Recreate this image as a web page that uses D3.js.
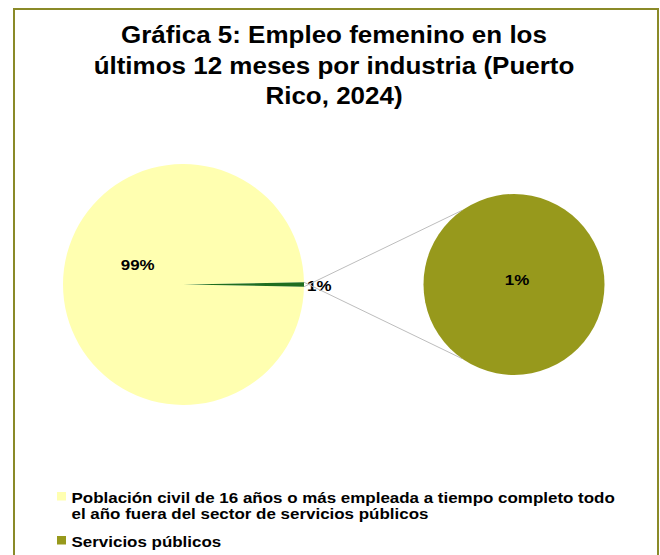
<!DOCTYPE html>
<html>
<head>
<meta charset="utf-8">
<script src="https://cdn.jsdelivr.net/npm/d3@7/dist/d3.min.js"></script>
<style>
  body { margin: 0; background: #fff; }
  svg { display: block; font-family: "Liberation Sans", Arial, sans-serif; }
</style>
</head>
<body>
<svg id="chart" width="660" height="555"></svg>
<script>
const TITLE_LINES = [
  'Gráfica 5: Empleo femenino en los',
  'últimos 12 meses por industria (Puerto',
  'Rico, 2024)',
]
const CATEGORIES = [
  'Población civil de 16 años o más empleada a tiempo completo todo el año fuera del sector de servicios públicos',
  'Servicios públicos',
]
const LEGEND_LINES = [
  ['Población civil de 16 años o más empleada a tiempo completo todo', 'el año fuera del sector de servicios públicos'],
  ['Servicios públicos'],
]
const MAIN_VALUES = [99.4, 0.6]   // % of total
const SECONDARY_VALUES = [0.6]    // breakdown of the small slice
const COLORS = ['#ffffb0', '#97991c']
const SMALL_SLICE_COLOR = '#1f6e1f'

const svg = d3.select('#chart')
const sx = 1.13   // the original font runs a bit wider than Liberation Sans

// frame
svg.append('rect')
  .attr('x', 14).attr('y', 9)
  .attr('width', 644).attr('height', 560)
  .attr('fill', 'none')
  .attr('stroke', '#8a8a28')
  .attr('stroke-width', 2)

// title
svg.append('g')
  .selectAll('text')
  .data(TITLE_LINES)
  .enter()
  .append('text')
  .attr('transform', (d, i) => `translate(334, ${43 + i * 30.5}) scale(${sx}, 1)`)
  .attr('text-anchor', 'middle')
  .attr('font-size', 23)
  .attr('font-weight', 'bold')
  .attr('fill', '#000')
  .text((d) => d)

const fmt = d3.format('.0f')
const total = d3.sum(MAIN_VALUES)

// main pie
const mainC = {x: 183.5, y: 284.5, r: 120.5}
const smallSpan = MAIN_VALUES[1] / total * 2 * Math.PI
const start = Math.PI / 2 + smallSpan / 2
const pie = d3.pie().sort(null).startAngle(start).endAngle(start + 2 * Math.PI)
const arcs = pie(MAIN_VALUES)
const arc = d3.arc().innerRadius(0).outerRadius(mainC.r)

const gMain = svg.append('g')
  .attr('transform', `translate(${mainC.x}, ${mainC.y})`)

gMain.selectAll('path')
  .data(arcs)
  .enter()
  .append('path')
  .attr('d', arc)
  .attr('fill', (d, i) => i === 0 ? COLORS[0] : SMALL_SLICE_COLOR)

// secondary pie
const secC = {x: 514, y: 284.5, r: 90.5}
const secArcs = d3.pie().sort(null)(SECONDARY_VALUES)
const secArc = d3.arc().innerRadius(0).outerRadius(secC.r)

// connector lines
const small = arcs[1]
const connAngle = 55 * Math.PI / 180
const conn = [
  [small.startAngle, Math.PI + connAngle],
  [small.endAngle, Math.PI - connAngle],
]
svg.append('g')
  .selectAll('line')
  .data(conn)
  .enter()
  .append('line')
  .attr('x1', (d) => mainC.x + mainC.r * Math.sin(d[0]))
  .attr('y1', (d) => mainC.y - mainC.r * Math.cos(d[0]))
  .attr('x2', (d) => secC.x + secC.r * Math.cos(d[1]))
  .attr('y2', (d) => secC.y - secC.r * Math.sin(d[1]))
  .attr('stroke', '#bdbdbd')
  .attr('stroke-width', 1)

const gSec = svg.append('g')
  .attr('transform', `translate(${secC.x}, ${secC.y})`)
gSec.selectAll('path')
  .data(secArcs)
  .enter()
  .append('path')
  .attr('d', secArc)
  .attr('fill', COLORS[1])

// labels
const labelFont = 15
function label(g, x, y, anchor, txt) {
  g.append('text')
    .attr('transform', `translate(${x}, ${y}) scale(${sx}, 1)`)
    .attr('text-anchor', anchor)
    .attr('font-size', labelFont)
    .attr('font-weight', 'bold')
    .text(txt)
}

const bigMid = (arcs[0].startAngle + arcs[0].endAngle) / 2
label(gMain,
  0.38 * mainC.r * Math.sin(bigMid),
  -0.38 * mainC.r * Math.cos(bigMid) - 14.5,
  'middle', fmt(MAIN_VALUES[0] / total * 100) + '%')

const smallMid = (small.startAngle + small.endAngle) / 2
label(gMain,
  (mainC.r + 3) * Math.sin(smallMid),
  -(mainC.r + 3) * Math.cos(smallMid) + 6,
  'start', fmt(MAIN_VALUES[1] / total * 100) + '%')

label(gSec, 3, 0, 'middle', fmt(SECONDARY_VALUES[0] / total * 100) + '%')

// legend
const legendY = [492, 536]
const legend = svg.append('g')
  .selectAll('g')
  .data(CATEGORIES)
  .enter()
  .append('g')
  .attr('transform', (d, i) => `translate(57, ${legendY[i]})`)

legend.append('rect')
  .attr('x', 0)
  .attr('y', 0)
  .attr('width', 9)
  .attr('height', 8.5)
  .attr('fill', (d, i) => COLORS[i])

legend.append('text')
  .attr('transform', `translate(14.5, 0) scale(${sx}, 1)`)
  .attr('font-size', 15)
  .attr('font-weight', 'bold')
  .selectAll('tspan')
  .data((d, i) => LEGEND_LINES[i])
  .enter()
  .append('tspan')
  .attr('x', 0)
  .attr('y', (d, j) => 10.5 + j * 17)
  .text((d) => d)
</script>
</body>
</html>
